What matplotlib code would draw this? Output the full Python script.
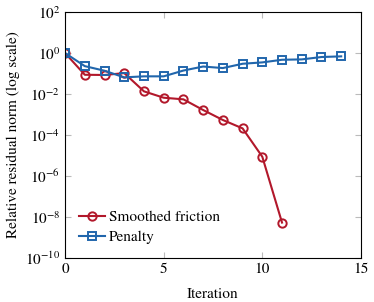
import numpy as np
import matplotlib
matplotlib.use('Agg')
import matplotlib.pyplot as plt

# data
it_smooth = [0, 1, 2, 3, 4, 5, 6, 7, 8, 9, 10, 11]
res_smooth = [1.0, 0.087, 0.085, 0.105, 0.0135, 0.0066, 0.0055, 0.00166,
              5.4e-4, 2.1e-4, 8.7e-6, 5.3e-9]
it_penalty = list(range(15))
res_penalty = [1.0, 0.23, 0.137, 0.065, 0.073, 0.073, 0.14, 0.22, 0.185,
               0.30, 0.35, 0.47, 0.49, 0.64, 0.69]

plt.rcParams['font.family'] = 'STIXGeneral'
plt.rcParams['mathtext.fontset'] = 'stix'
plt.rcParams['font.size'] = 11

red = '#b2182b'
blue = '#2166ac'

fig = plt.figure(figsize=(3.74, 3.02), dpi=100)
ax = fig.add_axes([0.174, 0.146, 0.791, 0.814])

ax.plot(it_smooth, res_smooth, color=red, lw=1.5, marker='o', ms=6,
        mfc='none', mew=1.4, label='Smoothed friction')
ax.plot(it_penalty, res_penalty, color=blue, lw=1.5, marker='s', ms=5.5,
        mfc='none', mew=1.4, label='Penalty')

ax.set_yscale('log')
ax.set_xlim(0, 15)
ax.set_ylim(1e-10, 1e2)
ax.set_xticks([0, 5, 10, 15])
ax.set_yticks([1e-10, 1e-8, 1e-6, 1e-4, 1e-2, 1e0, 1e2])
ax.yaxis.set_minor_locator(matplotlib.ticker.NullLocator())
ax.tick_params(direction='in', top=True, right=True, color='#bbbbbb',
               length=4, width=0.8)
for s in ax.spines.values():
    s.set_linewidth(0.8)

ax.set_xlabel('Iteration', labelpad=8)
ax.set_ylabel('Relative residual norm (log scale)')

ax.legend(loc='lower left', frameon=False, handlelength=1.7,
          borderaxespad=0.0, handletextpad=0.3, labelspacing=0.45,
          bbox_to_anchor=(0.025, 0.03))

fig.savefig('out.png', dpi=100)
